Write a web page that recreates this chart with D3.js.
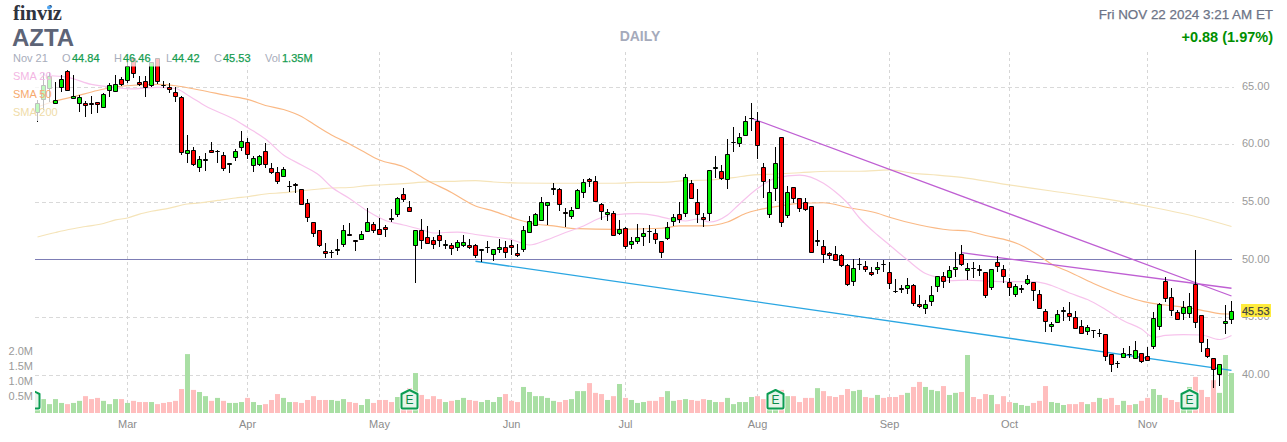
<!DOCTYPE html>
<html>
<head>
<meta charset="utf-8">
<style>
  html, body { margin: 0; padding: 0; background: #fff; overflow: hidden; }
  svg { display: block; font-family: "Liberation Sans", Arial, sans-serif; }
</style>
<script src="https://cdn.jsdelivr.net/npm/d3@7"></script>
</head>
<body>
<svg width="1287" height="442"></svg>
<script>
// one value per trading day, Feb 2024 -> Nov 21 2024
var highs = [63.87,66.21,66.30,65.43,66.04,66.47,66.04,64.31,63.79,64.22,
  63.73,64.45,65.32,66.04,65.84,67.34,67.51,65.95,65.95,67.19,
  67.51,65.52,65.32,64.97,64.22,60.84,59.77,59.05,59.25,60.21,
  59.54,59.34,58.39,59.63,61.19,60.55,59.05,59.11,60.12,58.39,
  58.09,58.09,56.85,56.71,56.13,55.27,53.30,52.61,51.46,50.87,
  51.80,53.04,53.22,51.74,52.50,54.49,53.33,53.62,53.04,54.40,
  55.49,56.22,55.15,52.61,53.54,52.96,51.98,52.61,51.74,51.51,
  51.74,52.17,51.80,51.40,50.99,51.68,50.94,51.80,51.68,51.74,
  51.37,52.96,53.82,54.05,55.44,55.03,56.66,56.22,54.49,54.58,
  56.13,57.00,57.09,57.29,54.92,54.40,54.25,53.48,52.89,51.98,
  53.13,52.76,53.04,52.67,51.66,53.33,54.00,55.06,57.43,56.94,
  56.13,54.11,57.81,59.02,58.24,60.47,61.56,60.99,62.49,63.59,
  62.86,58.39,57.00,59.83,60.64,56.42,56.31,55.36,55.36,54.66,
  52.61,51.74,50.68,51.22,50.50,49.62,50.10,50.15,49.92,49.43,
  49.86,50.01,49.81,48.34,47.84,48.42,47.90,46.97,46.54,47.76,
  48.65,48.99,49.51,50.68,51.31,49.72,49.81,49.58,48.99,49.23,
  50.36,49.58,48.45,47.93,47.84,48.68,48.13,47.41,45.74,44.66,
  45.67,45.91,46.39,45.59,44.81,44.38,43.94,44.03,43.57,41.86,
  41.26,42.36,42.56,42.99,41.97,42.49,45.48,46.26,48.51,47.56,
  45.67,46.46,47.12,50.87,45.24,43.14,41.49,40.97,46.11,46.46]

var lows = [61.97,63.01,63.73,63.57,64.59,64.65,63.96,62.86,62.43,62.66,
  62.72,63.15,64.16,64.59,65.09,65.35,65.78,65.09,64.16,65.03,
  65.26,64.89,64.45,63.73,59.11,58.44,58.18,57.66,57.75,59.26,
  58.44,57.75,57.57,58.61,59.48,58.76,57.66,58.18,58.01,57.46,
  56.62,57.17,55.93,55.79,54.84,53.33,52.03,51.16,50.15,50.15,
  50.44,51.16,52.09,50.79,51.74,52.43,52.32,52.17,52.03,53.33,
  53.76,55.06,54.17,48.04,50.94,51.39,50.94,51.11,50.94,50.44,
  50.81,51.16,50.94,50.15,49.86,50.59,49.95,50.64,50.15,50.44,
  50.30,50.70,52.37,52.96,53.41,53.04,55.64,54.28,52.84,53.59,
  54.40,55.35,56.31,55.01,53.48,53.41,52.09,52.17,50.94,50.94,
  51.39,51.22,51.46,51.37,50.15,51.74,52.96,53.24,53.76,55.27,
  53.24,52.89,53.41,57.14,56.94,56.19,59.39,59.83,60.78,61.21,
  58.76,55.36,53.67,55.15,52.89,53.62,54.95,54.19,54.28,50.68,
  51.25,49.77,50.07,49.95,49.38,47.78,47.78,49.14,48.99,48.65,
  48.79,48.99,47.50,47.18,47.12,47.06,46.05,45.87,45.30,46.05,
  47.26,47.61,48.04,48.51,49.49,48.27,48.42,48.65,46.74,47.41,
  48.99,48.04,46.92,46.83,47.12,47.84,46.48,45.74,43.79,43.79,
  44.58,44.75,44.75,44.00,43.57,43.51,43.27,43.31,41.26,40.33,
  40.67,41.49,41.49,41.40,41.06,41.28,42.27,43.94,46.39,45.16,
  44.81,44.81,44.96,44.14,42.01,41.49,38.94,39.12,43.60,44.42]

var opens = [62.83,63.96,64.91,63.61,64.94,66.36,63.99,63.59,63.59,63.53,
  63.67,63.24,64.71,64.63,65.67,65.58,67.49,65.41,65.49,65.09,
  67.49,65.17,64.97,64.54,64.07,59.22,59.51,58.04,58.65,59.51,
  59.37,59.08,58.28,58.91,59.77,60.21,58.18,58.27,59.43,57.96,
  57.61,57.23,56.38,56.59,56.13,54.92,53.28,52.58,50.76,50.62,
  50.87,51.33,52.22,51.70,51.80,52.46,53.07,52.67,52.84,53.61,
  53.97,55.70,54.57,51.28,52.58,51.98,51.68,52.11,51.28,51.28,
  51.11,51.28,51.28,51.28,50.83,51.07,50.47,50.96,51.11,51.25,
  50.59,50.94,52.41,52.98,53.45,54.75,56.16,56.10,54.12,53.80,
  54.49,55.87,57.00,56.83,54.84,53.97,54.05,52.32,52.76,51.37,
  51.59,52.03,52.52,52.32,51.63,51.89,53.36,53.97,54.06,56.66,
  55.01,53.71,54.06,57.98,57.70,57.00,60.17,60.12,60.81,62.27,
  62.03,58.04,53.97,56.22,60.64,53.88,56.31,55.36,55.01,54.66,
  51.63,51.20,50.53,50.50,50.42,49.57,48.13,49.60,49.46,48.94,
  49.20,49.66,48.94,47.32,47.50,47.52,47.82,46.17,45.82,46.43,
  47.73,48.60,48.51,49.20,50.50,49.12,49.29,49.20,48.94,47.64,
  49.81,49.20,48.08,47.06,47.45,47.99,48.08,47.04,45.56,44.23,
  44.61,45.53,45.39,45.04,44.26,43.83,43.94,43.60,43.57,41.84,
  41.04,41.58,41.82,41.49,41.92,41.66,42.53,44.26,48.16,46.78,
  45.48,45.39,45.39,47.90,45.22,42.36,41.49,40.10,44.52,44.84]

var closes = [63.53,65.17,65.87,63.81,65.61,64.74,64.19,64.11,63.41,63.48,
  63.47,64.37,65.11,65.20,65.23,66.76,66.19,65.20,64.97,67.14,
  65.49,65.13,64.80,64.19,59.31,59.51,58.30,58.73,58.76,59.31,
  59.41,57.92,58.39,59.39,60.29,59.13,58.82,59.00,58.27,57.57,
  56.79,57.87,56.42,56.48,54.84,53.67,52.32,51.25,50.55,50.66,
  50.96,52.58,52.13,51.61,52.24,53.28,52.58,52.24,52.67,53.48,
  55.32,55.23,54.19,52.58,51.72,51.46,51.33,51.74,51.35,50.99,
  51.51,51.51,51.11,50.38,50.92,51.13,50.94,51.05,50.64,51.11,
  50.42,52.58,53.36,53.97,55.01,55.01,56.22,54.84,54.08,54.32,
  56.05,56.74,56.77,55.06,54.23,54.14,52.17,52.67,51.16,51.57,
  51.98,52.32,52.48,51.80,50.68,52.84,53.71,53.54,57.18,55.36,
  53.97,53.54,57.78,58.02,57.09,59.17,60.23,60.64,62.03,62.31,
  59.95,56.83,55.87,58.39,53.27,55.87,55.36,54.49,54.40,50.68,
  51.70,50.50,50.44,49.98,49.55,47.90,49.29,49.66,49.20,48.73,
  49.38,49.60,47.96,47.26,47.41,47.82,46.22,46.00,46.14,46.95,
  48.56,48.13,49.11,49.38,49.64,49.29,49.23,49.12,46.93,49.20,
  49.43,48.62,47.61,47.73,47.50,48.34,47.35,45.82,44.70,44.46,
  45.30,45.59,45.10,44.09,43.66,44.18,43.88,43.66,41.66,40.97,
  41.00,41.92,41.78,42.18,41.20,41.32,44.96,46.17,46.65,45.65,
  44.87,45.91,46.00,44.61,42.84,41.66,40.54,40.97,44.65,45.53]

// volume in millions
var volumes = [.10,.47,.30,.47,.34,.30,.34,.41,.57,.47,
  .51,.41,.30,.47,.47,.34,.41,.37,.37,.37,
  .30,.34,.37,.41,.81,1.99,.78,.71,.57,.41,
  .51,.41,.34,.34,.37,.51,.37,.27,.30,.44,
  .64,.51,.37,.37,.34,.44,.57,.44,.44,.44,
  .41,.47,.37,.34,.27,.47,.34,.44,.44,.37,
  .54,.44,.84,1.35,.61,.47,.57,.47,.37,.41,
  .44,.51,.44,.41,.37,.44,.37,.54,.64,.41,
  .37,.88,.71,.57,.57,.51,.41,.37,.44,.47,
  .74,.74,1.01,.68,.64,.44,.57,.98,.51,.44,
  .34,.37,.41,.41,.54,.74,.41,.44,.47,.44,
  .41,.47,.44,.37,.37,.51,.30,.37,.37,.54,
  .57,.47,.34,.44,.78,.57,.57,.37,.51,.51,
  .84,.74,.57,.54,.61,.81,.74,.78,.54,.51,
  .61,.51,.54,.54,.61,.68,.88,1.05,.88,.78,
  .74,.91,.61,.68,.71,1.96,.54,.47,.64,.61,
  .30,.57,.37,.34,.27,.24,.34,.41,.91,.37,
  .34,.27,.30,.30,.37,.30,.37,.51,.47,.51,
  .27,.41,.27,.30,.41,.51,.81,.61,.51,.44,
  .37,.41,.88,1.22,.78,.54,1.11,.68,1.96,1.35]

// moving averages at the bars listed
var sma20Bars = [0,5,9,13,16,20,23,25,28,33,35,38,41,44,47,49,52,55,58,61,64,66,70,73,76,79,82,85,88,91,94,96,100,103,105,108,110,112,115,117,120,123,127,131,133,135,137,140,142,145,148,150,152,155,158,162,166,169,172,175,178,181,184,186,188,191,194,197,199]
var sma20Values = [66.04,65.84,65.22,64.94,64.83,64.96,64.87,64.31,63.35,62.14,61.49,60.49,59.11,58.24,57.33,56.33,55.34,54.25,53.43,53.04,52.65,52.35,52.43,52.22,52.00,51.78,51.31,51.78,52.39,52.96,53.69,53.91,54.02,53.86,53.61,53.39,53.56,53.30,53.91,54.86,56.20,57.11,57.37,56.66,55.90,54.95,53.65,52.17,51.31,50.01,48.84,48.49,48.21,48.27,48.19,48.13,48.13,47.80,47.15,46.58,45.72,44.75,44.03,43.31,43.47,43.55,43.51,43.12,43.47]

var sma50Bars = [0,3,6,10,13,16,20,23,27,32,35,38,41,44,46,49,52,54,57,61,65,69,73,76,80,83,86,90,96,104,107,111,115,118,120,123,127,131,135,140,142,147,152,155,158,162,164,167,169,172,176,179,182,185,188,192,195,197,199]
var sma50Values = [63.27,63.79,64.16,64.70,65.00,65.15,65.23,65.11,64.74,64.22,63.93,63.40,63.05,62.44,61.79,60.84,60.06,59.50,58.67,58.09,56.90,55.86,54.69,54.25,53.52,53.13,52.96,52.72,52.67,52.76,52.96,52.96,53.30,54.04,54.34,54.63,54.92,54.97,54.56,54.06,53.71,53.04,52.61,52.52,52.13,51.66,51.27,50.36,49.66,48.97,47.97,47.32,46.76,46.33,46.11,45.85,45.55,45.37,45.33]

var sma200Bars = [0,3,5,8,11,13,15,17,19,22,25,27,30,33,35,38,41,44,47,49,52,55,57,61,65,69,73,76,80,85,91,96,100,104,108,112,116,119,123,127,132,137,142,146,150,154,161,169,178,186,194,199]
var sma200Values = [52.00,52.39,52.63,52.91,53.17,53.48,53.65,53.99,54.23,54.51,54.86,54.95,55.17,55.38,55.49,55.73,55.84,56.01,56.16,56.25,56.29,56.46,56.51,56.62,56.77,56.83,56.88,56.77,56.68,56.66,56.66,56.66,56.74,56.74,56.88,56.94,57.14,57.37,57.46,57.57,57.70,57.70,57.81,57.52,57.37,57.17,56.59,55.99,55.30,54.56,53.65,52.91]

// drawn trendlines [bar, price, bar, price]
var blueTrend = [73, 49.90, 199, 40.45]
var purpleTrendA = [119, 62.29, 199, 46.89]
var purpleTrendB = [154, 50.64, 199, 47.56]

var priceTicks = [40, 45, 50, 55, 60, 65]
var volumeTicks = [0.5, 1, 1.5, 2]
var monthBars = [15, 35, 57, 79, 98, 120, 142, 162, 185]
var monthNames = ["Mar", "Apr", "May", "Jun", "Jul", "Aug", "Sep", "Oct", "Nov"]
var earningsBars = [-1, 62, 123, 192]
var lastClose = 45.53

var bars = d3.range(closes.length)

var x = d3.scaleLinear().domain([0, 199]).range([37.5, 1231.5])
var y = d3.scaleLinear().domain([40, 65]).range([375.5, 87])
var v = d3.scaleLinear().domain([0, 2]).range([413, 353.8])

// keep 1px things on a pixel row
var snap = d => Math.round(d - 0.5) + 0.5

var svg = d3.select("svg")

svg.append("defs").append("clipPath").attr("id", "plot")
  .append("rect").attr("x", 35).attr("y", 0).attr("width", 1252).attr("height", 442)

// grid
svg.append("g").selectAll("line")
  .data(priceTicks.filter(d => d != 50))
  .join("line")
  .attr("x1", 35).attr("x2", 1234)
  .attr("y1", d => snap(y(d))).attr("y2", d => snap(y(d)))
  .attr("stroke", "#d9d9d9").attr("stroke-dasharray", "4,3")

svg.append("g").selectAll("line")
  .data(monthBars)
  .join("line")
  .attr("x1", d => x(d)).attr("x2", d => x(d))
  .attr("y1", 52).attr("y2", 413)
  .attr("stroke", "#d6d6d6").attr("stroke-dasharray", "3,3")

svg.append("line")
  .attr("x1", 35).attr("x2", 1232)
  .attr("y1", snap(y(50) - 0.8)).attr("y2", snap(y(50) - 0.8))
  .attr("stroke", "#7d7db5")

// volume
svg.append("g").selectAll("rect")
  .data(bars)
  .join("rect")
  .attr("x", d => x(d) - 2.5)
  .attr("width", 5)
  .attr("y", d => v(volumes[d]))
  .attr("height", d => v(0) - v(volumes[d]))
  .attr("fill", d => closes[d] >= opens[d] ? "#a9dfa4" : "#ffbebe")

// moving averages
var line = d3.line().x(d => x(d[0])).y(d => y(d[1])).curve(d3.curveMonotoneX)
var smas = [
  [sma200Bars, sma200Values, "#f5e4b9"],
  [sma50Bars, sma50Values, "#fab985"],
  [sma20Bars, sma20Values, "#f7c3ec"]
]
svg.append("g").attr("fill", "none").attr("stroke-width", 1.2)
  .selectAll("path")
  .data(smas)
  .join("path")
  .attr("d", d => line(d[0].map((b, i) => [b, d[1][i]])))
  .attr("stroke", d => d[2])

// trendlines
svg.append("g").attr("stroke-width", 1.3)
  .selectAll("line")
  .data([[blueTrend, "#2aa6e2"], [purpleTrendA, "#bf5fd3"], [purpleTrendB, "#bf5fd3"]])
  .join("line")
  .attr("x1", d => x(d[0][0])).attr("y1", d => y(d[0][1]))
  .attr("x2", d => x(d[0][2])).attr("y2", d => y(d[0][3]))
  .attr("stroke", d => d[1])

// candles
var candle = svg.append("g").selectAll("g").data(bars).join("g")
candle.append("line")
  .attr("x1", d => x(d)).attr("x2", d => x(d))
  .attr("y1", d => Math.round(y(highs[d]))).attr("y2", d => Math.round(y(lows[d])))
  .attr("stroke", "#000")
candle.append("path")
  .attr("d", d => {
    var t = snap(y(Math.max(opens[d], closes[d])))
    var b = snap(y(Math.min(opens[d], closes[d])))
    return `M${x(d) - 2},${t}H${x(d) + 2}V${b}H${x(d) - 2}Z`
  })
  .attr("fill", d => closes[d] >= opens[d] ? "#00ee00" : "#ff0000")
  .attr("stroke", "#000")

// legend backdrop washes out what is under it
svg.append("rect").attr("x", 0).attr("y", 52).attr("width", 315).attr("height", 14.5)
  .attr("fill", "#fff").attr("opacity", 0.75)
svg.append("rect").attr("x", 0).attr("y", 66.5).attr("width", 52).attr("height", 54.5)
  .attr("fill", "#fff").attr("opacity", 0.75)

// earnings flags
var flag = svg.append("g").attr("clip-path", "url(#plot)")
  .selectAll("g").data(earningsBars).join("g")
  .attr("transform", d => `translate(${x(d)},399)`)
var flagShape = "M0,-9L8,-5V8.5Q8,9.5 7,9.5H-7Q-8,9.5 -8,8.5V-5Z"
flag.append("path").attr("d", flagShape).attr("fill", "none")
  .attr("stroke", "#fff").attr("stroke-opacity", 0.7).attr("stroke-width", 4)
flag.append("path").attr("d", flagShape).attr("fill", "#e6f4ea")
  .attr("stroke", "#0b9d52").attr("stroke-width", 2).attr("stroke-linejoin", "round")
// the first flag is cut off by the plot edge, its letter is never seen
flag.filter(d => d >= 0).append("text").text("E")
  .attr("text-anchor", "middle").attr("y", 5)
  .attr("font-size", 12).attr("fill", "#0b8a48")

// axes
var priceAxis = d3.axisRight(y).tickValues(priceTicks).tickSize(0).tickPadding(0)
  .tickFormat(d3.format(".2f")).offset(0)
var priceG = svg.append("g").attr("transform", "translate(1242,-1)").call(priceAxis)
priceG.select(".domain").remove()
priceG.selectAll("text").attr("font-size", 11).attr("font-family", "Liberation Sans").attr("fill", "#9a9a9a")

var monthAxis = d3.axisBottom(x).tickValues(monthBars).tickSize(0).tickPadding(0)
  .tickFormat((d, i) => monthNames[i]).offset(0)
var monthG = svg.append("g").attr("transform", "translate(0,420)").call(monthAxis)
monthG.select(".domain").remove()
monthG.selectAll("text").attr("font-size", 11).attr("font-family", "Liberation Sans").attr("fill", "#8c8c8c")

var volAxis = d3.axisLeft(v).tickValues(volumeTicks).tickSize(0).tickPadding(0)
  .tickFormat(d => d.toFixed(1) + "M").offset(0)
var volG = svg.append("g").attr("transform", "translate(33,-2)").call(volAxis)
volG.select(".domain").remove()
volG.selectAll("text").attr("font-size", 11).attr("font-family", "Liberation Sans").attr("fill", "#9a9a9a")

// last price tag
svg.append("rect").attr("x", 1241).attr("y", 304).attr("width", 30).attr("height", 13).attr("fill", "#ffec3d")
svg.append("text").text(d3.format(".2f")(lastClose))
  .attr("x", 1242).attr("y", 315).attr("font-size", 11).attr("fill", "#444")
  .attr("stroke", "#444").attr("stroke-width", 0.25)

// header
function label(txt, px, py, size, color, weight, anchor) {
  return svg.append("text").text(txt)
    .attr("x", px).attr("y", py)
    .attr("font-size", size).attr("fill", color)
    .attr("font-weight", weight || "normal")
    .attr("text-anchor", anchor || "start")
}
// the reference's small type is a little heavier than plain regular
function heavy(sel) {
  return sel.attr("stroke", sel.attr("fill")).attr("stroke-width", 0.25)
}

label("finviz", 13, 20, 20.5, "#30343f", "bold").attr("font-family", "Liberation Serif")
svg.append("circle").attr("cx", 49).attr("cy", 7.5).attr("r", 2).attr("fill", "#4ea5f2")
label("AZTA", 12, 46, 24, "#5d6477", "bold")
label("DAILY", 640, 41, 14, "#a5aabb", "bold", "middle")
heavy(label("Fri NOV 22 2024 3:21 AM ET", 1273, 19, 13.4, "#6c7386", "normal", "end"))
label("+0.88 (1.97%)", 1273, 42, 14.5, "#008f00", "bold", "end")

label("Nov 21", 13, 62, 11, "#a8adbb")
label("O", 62, 62, 11, "#a8adbb")
heavy(label("44.84", 72, 62, 11, "#169c50"))
label("H", 114, 62, 11, "#a8adbb")
heavy(label("46.46", 123, 62, 11, "#169c50"))
label("L", 166, 62, 11, "#a8adbb")
heavy(label("44.42", 172, 62, 11, "#169c50"))
label("C", 214, 62, 11, "#a8adbb")
heavy(label("45.53", 223, 62, 11, "#169c50"))
label("Vol", 265, 62, 11, "#a8adbb")
heavy(label("1.35M", 282, 62, 11, "#169c50"))

label("SMA 20", 13, 80, 11, "#f3b6e3")
label("SMA 50", 13, 98, 11, "#f6a96e")
label("SMA 200", 13, 116, 11, "#efdca8")
</script>
</body>
</html>
